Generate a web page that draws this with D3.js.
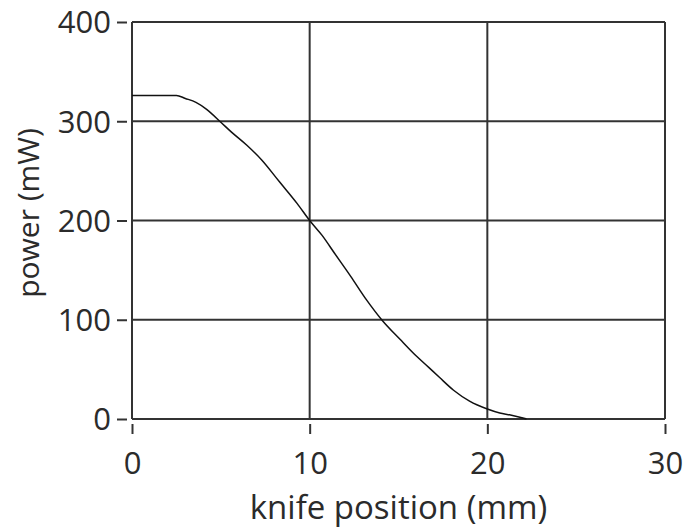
<!DOCTYPE html>
<html>
<head>
<meta charset="utf-8">
<script src="https://cdn.jsdelivr.net/npm/d3@7"></script>
<style>
  html, body { margin: 0; padding: 0; background: #fff; }
  svg { display: block; }
  text { font-family: "Open Sans", "Noto Sans", sans-serif; fill: #2b2b2b; }
</style>
</head>
<body>
<svg id="chart" width="684" height="529"></svg>
<script>
// Knife-edge scan: transmitted power vs. knife position
const positionMm = [0, 1, 2, 2.5, 3, 3.6, 4.2, 5.0, 5.6, 6.45, 7.3, 8.3, 9.3, 10.0, 10.7, 11.4, 12.3, 13.2, 14.1, 15.1, 15.8, 16.7, 17.3, 18.1, 19.0, 20.0, 20.7, 21.3, 22.0, 22.2];
const powerMw    = [326, 326, 326, 326, 323, 319, 312, 299, 289, 276, 261, 239, 217, 200, 185, 167, 144, 120, 99, 80, 67, 52, 42, 29, 18, 10, 6, 4, 1, 0];

const xTicks = [0, 10, 20, 30];
const yTicks = [0, 100, 200, 300, 400];
const xLabel = "knife position (mm)";
const yLabel = "power (mW)";

const svg = d3.select("#chart");
const plot = { left: 132, right: 665, top: 22, bottom: 419 };

const x = d3.scaleLinear().domain([0, 30]).range([plot.left, plot.right]);
const y = d3.scaleLinear().domain([0, 400]).range([plot.bottom, plot.top]);

const gridColor = "#333";

// grid lines
const grid = svg.append("g");
grid.selectAll("line.gx").data(xTicks).join("line")
  .attr("x1", d => x(d)).attr("x2", d => x(d))
  .attr("y1", plot.top).attr("y2", plot.bottom)
  .attr("stroke", gridColor).attr("stroke-width", 2);
grid.selectAll("line.gy").data(yTicks).join("line")
  .attr("x1", plot.left).attr("x2", plot.right)
  .attr("y1", d => y(d)).attr("y2", d => y(d))
  .attr("stroke", gridColor).attr("stroke-width", 2);

// axes with detached tick marks
const xAxis = d3.axisBottom(x).tickValues(xTicks).tickSize(0).tickPadding(0).tickFormat(d3.format("d"));
const yAxis = d3.axisLeft(y).tickValues(yTicks).tickSize(0).tickPadding(0).tickFormat(d3.format("d"));

const gx = svg.append("g").attr("transform", `translate(0,${plot.bottom})`).call(xAxis);
gx.select(".domain").remove();
gx.selectAll(".tick line").attr("y1", 5).attr("y2", 15).attr("stroke", gridColor).attr("stroke-width", 2);
gx.selectAll(".tick text").attr("y", 33).attr("font-size", 31).attr("fill", "#2b2b2b");

const gy = svg.append("g").attr("transform", `translate(${plot.left},0)`).call(yAxis);
gy.select(".domain").remove();
gy.selectAll(".tick line").attr("x1", -15).attr("x2", -5).attr("stroke", gridColor).attr("stroke-width", 2);
gy.selectAll(".tick text").attr("x", -21).attr("dy", "0.35em").attr("font-size", 31).attr("fill", "#2b2b2b");

// data curve
const line = d3.line().x((d, i) => x(positionMm[i])).y(d => y(d)).curve(d3.curveMonotoneX);
svg.append("path")
  .datum(powerMw)
  .attr("d", line)
  .attr("fill", "none")
  .attr("stroke", "#111")
  .attr("stroke-width", 1.5);

// axis titles
svg.append("text")
  .attr("x", (plot.left + plot.right) / 2).attr("y", 519)
  .attr("text-anchor", "middle").attr("font-size", 33)
  .text(xLabel);

svg.append("text")
  .attr("transform", "translate(39,213) rotate(-90)")
  .attr("text-anchor", "middle").attr("font-size", 30)
  .text(yLabel);
</script>
</body>
</html>
